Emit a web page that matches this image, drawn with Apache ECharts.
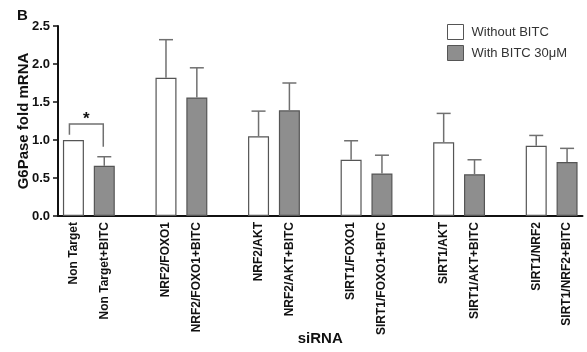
<!DOCTYPE html>
<html>
<head>
<meta charset="utf-8">
<script src="https://cdn.jsdelivr.net/npm/echarts@6/dist/echarts.min.js"></script>
<style>
  html, body { margin: 0; padding: 0; background: #fff; }
  #chart { width: 587px; height: 352px; }
</style>
</head>
<body>
<div id="chart"></div>
<script>
// siRNA groups, each shown without and with BITC treatment
const groups = ['Non Target', 'NRF2/FOXO1', 'NRF2/AKT', 'SIRT1/FOXO1', 'SIRT1/AKT', 'SIRT1/NRF2'];
const tickLabels = [
  'Non Target', 'Non Target+BITC',
  'NRF2/FOXO1', 'NRF2/FOXO1+BITC',
  'NRF2/AKT', 'NRF2/AKT+BITC',
  'SIRT1/FOXO1', 'SIRT1/FOXO1+BITC',
  'SIRT1/AKT', 'SIRT1/AKT+BITC',
  'SIRT1/NRF2', 'SIRT1/NRF2+BITC'
];
// G6Pase fold mRNA (mean) and upper error (SEM)
const withoutMean = [1.00, 1.82, 1.05, 0.74, 0.97, 0.925];
const withoutErr  = [0.00, 0.50, 0.33, 0.25, 0.38, 0.135];
const withMean    = [0.66, 1.56, 1.39, 0.56, 0.55, 0.71];
const withErr     = [0.12, 0.39, 0.36, 0.24, 0.19, 0.18];
const yTicks = [0, 0.5, 1.0, 1.5, 2.0, 2.5];

// Category slots: two bars per group with an empty slot between groups
const slots = [];
const withoutData = [];
const withData = [];
const errData = [];
groups.forEach((g, i) => {
  if (i > 0) { slots.push(''); withoutData.push('-'); withData.push('-'); }
  const a = slots.length;
  slots.push(tickLabels[2 * i]);
  withoutData.push(withoutMean[i]); withData.push('-');
  errData.push([a, withoutMean[i], withoutErr[i]]);
  const b = slots.length;
  slots.push(tickLabels[2 * i + 1]);
  withoutData.push('-'); withData.push(withMean[i]);
  errData.push([b, withMean[i], withErr[i]]);
});

const FONT = 'Arial, "Liberation Sans", sans-serif';
const ERR_COLOR = '#707070';

const chart = echarts.init(document.getElementById('chart'), null, { renderer: 'canvas' });
chart.setOption({
  animation: false,
  backgroundColor: '#ffffff',
  graphic: [{
    type: 'text', left: 17, top: 8,
    style: { text: 'B', font: 'bold 15px ' + FONT, fill: '#111' }
  }],
  legend: {
    orient: 'vertical', left: 442, top: 19, itemGap: 5,
    itemWidth: 16, itemHeight: 15, icon: 'rect',
    textStyle: { fontFamily: FONT, fontSize: 13, color: '#333', padding: [0, 0, 0, 3] },
    data: [
      { name: 'Without BITC', itemStyle: { color: '#ffffff', borderColor: '#555', borderWidth: 1 } },
      { name: 'With BITC 30μM', itemStyle: { color: '#8e8e8e', borderColor: '#555', borderWidth: 1 } }
    ]
  },
  grid: { left: 58, right: 4.5, top: 26, bottom: 136, containLabel: false, outerBoundsMode: 'none' },
  xAxis: {
    type: 'category',
    data: slots,
    name: 'siRNA', nameLocation: 'middle', nameGap: 115, nameMoveOverlap: false,
    nameTextStyle: { fontFamily: FONT, fontSize: 15, fontWeight: 'bold', color: '#111' },
    axisLine: { lineStyle: { color: '#111', width: 2 } },
    axisTick: { show: false },
    axisLabel: {
      interval: 0, rotate: 90, margin: 6,
      fontFamily: FONT, fontSize: 12, fontWeight: 'bold', color: '#111'
    }
  },
  yAxis: {
    type: 'value', min: 0, max: 2.5, interval: 0.5,
    name: 'G6Pase fold mRNA', nameLocation: 'middle', nameGap: 27, nameMoveOverlap: false,
    nameTextStyle: { fontFamily: FONT, fontSize: 15, fontWeight: 'bold', color: '#111' },
    axisLine: { show: true, lineStyle: { color: '#111', width: 2 } },
    axisTick: { show: true, length: 5, lineStyle: { color: '#111', width: 1.5 } },
    splitLine: { show: false },
    axisLabel: {
      margin: 8, fontFamily: FONT, fontSize: 13, fontWeight: 'bold', color: '#111',
      formatter: v => yTicks.includes(v) ? v.toFixed(1) : ''
    }
  },
  series: [
    {
      name: 'Without BITC', type: 'bar', data: withoutData,
      barWidth: 21, barGap: '-100%',
      itemStyle: { color: '#ffffff', borderColor: '#555', borderWidth: 1.2 }
    },
    {
      name: 'With BITC 30μM', type: 'bar', data: withData,
      barWidth: 21, barGap: '-100%',
      itemStyle: { color: '#8e8e8e', borderColor: '#555', borderWidth: 1.2 }
    },
    {
      // upper error bars
      type: 'custom', data: errData, z: 5,
      encode: { x: 0, y: 1 },
      renderItem: (params, api) => {
        const idx = api.value(0), mean = api.value(1), err = api.value(2);
        if (!(err > 0)) return null;
        const base = api.coord([idx, mean]);
        const top = api.coord([idx, mean + err]);
        const st = { stroke: ERR_COLOR, lineWidth: 1.5 };
        return {
          type: 'group',
          children: [
            { type: 'line', shape: { x1: base[0], y1: base[1], x2: top[0], y2: top[1] }, style: st },
            { type: 'line', shape: { x1: top[0] - 7, y1: top[1], x2: top[0] + 7, y2: top[1] }, style: st }
          ]
        };
      }
    },
    {
      // significance bracket between Non Target and Non Target+BITC
      type: 'custom', data: [[0, 1.21]], z: 5,
      encode: { x: 0, y: 1 },
      renderItem: (params, api) => {
        const l = api.coord([0, 1.07]);
        const r = api.coord([1, 0.91]);
        const t = api.coord([0, 1.21]);
        const lx = l[0] - 4, rx = r[0] - 1;
        return {
          type: 'group',
          children: [
            {
              type: 'polyline',
              shape: { points: [[lx, l[1]], [lx, t[1]], [rx, t[1]], [rx, r[1]]] },
              style: { stroke: ERR_COLOR, lineWidth: 1.5, fill: null }
            },
            {
              type: 'text',
              style: {
                text: '*', x: (lx + rx) / 2, y: t[1] + 4,
                align: 'center', verticalAlign: 'bottom',
                font: 'bold 17px ' + FONT, fill: '#111'
              }
            }
          ]
        };
      }
    }
  ]
});
</script>
</body>
</html>
